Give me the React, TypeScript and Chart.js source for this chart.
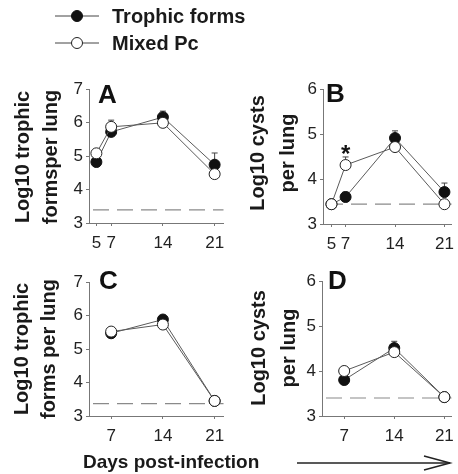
import React, { useEffect, useRef } from "react";
import { Chart, registerables } from "chart.js";

Chart.register(...registerables);

// ---------- data ----------
const daysAB = [5, 7, 14, 21];
const daysCD = [7, 14, 21];

const aTrophic = [4.82, 5.72, 6.16, 4.74];
const aTrophicErr = [0, 0, 0.18, 0.35];
const aMixed = [5.08, 5.87, 5.99, 4.46];
const aMixedErr = [0, 0.2, 0, 0];
const aLimit = 3.39;

const bTrophic = [3.44, 3.6, 4.91, 3.71];
const bTrophicErr = [0, 0.11, 0.16, 0.2];
const bMixed = [3.44, 4.31, 4.71, 3.44];
const bMixedErr = [0, 0.18, 0, 0];
const bLimit = 3.44;
const bStarDay = 7;
const bStarValue = 4.69;

const cTrophic = [5.47, 5.88, 3.45];
const cTrophicErr = [0, 0.1, 0];
const cMixed = [5.52, 5.73, 3.45];
const cMixedErr = [0, 0, 0];
const cLimit = 3.37;

const dTrophic = [3.8, 4.51, 3.42];
const dTrophicErr = [0, 0.15, 0];
const dMixed = [4.0, 4.42, 3.42];
const dMixedErr = [0, 0, 0];
const dLimit = 3.4;

const yTicksTrophic = [3, 4, 5, 6, 7];
const yTicksCysts = [3, 4, 5, 6];

const FONT = "'Liberation Sans', Arial, Helvetica, sans-serif";

type PanelCfg = {
  days: number[];
  trophic: number[];
  trophicErr: number[];
  mixed: number[];
  mixedErr: number[];
  limit: number;
  yTicks: number[];
  xMin: number;
  xMax: number;
  yWidth: number;
  padTop: number;
  padRight: number;
  xHeight: number;
  star?: { x: number; y: number };
};

const overlayPlugin = {
  id: "overlay",
  beforeDatasetsDraw(chart: any) {
    const { ctx, chartArea, scales } = chart;
    const cfg = chart.options.plugins.overlay as any;
    const y = scales.y;
    const x = scales.x;
    ctx.save();
    // detection limit dashed line
    const ly = y.getPixelForValue(cfg.limit);
    ctx.strokeStyle = "#8a8a8a";
    ctx.lineWidth = 1.2;
    ctx.setLineDash([16, 8]);
    ctx.beginPath();
    ctx.moveTo(chartArea.left + 4, ly);
    ctx.lineTo(chartArea.right, ly);
    ctx.stroke();
    ctx.setLineDash([]);
    // error bars (upper only)
    ctx.strokeStyle = "#444";
    ctx.lineWidth = 1;
    chart.data.datasets.forEach((ds: any) => {
      const errs: number[] = ds.errors || [];
      ds.data.forEach((p: any, i: number) => {
        const e = errs[i] || 0;
        if (e <= 0) return;
        const px = x.getPixelForValue(p.x);
        const py = y.getPixelForValue(p.y);
        const pt = y.getPixelForValue(p.y + e);
        ctx.beginPath();
        ctx.moveTo(px, py);
        ctx.lineTo(px, pt);
        ctx.moveTo(px - 3, pt);
        ctx.lineTo(px + 3, pt);
        ctx.stroke();
      });
    });
    ctx.restore();
  },
  afterDatasetsDraw(chart: any) {
    const cfg = chart.options.plugins.overlay as any;
    if (!cfg.star) return;
    const { ctx, scales } = chart;
    const px = scales.x.getPixelForValue(cfg.star.x);
    const py = scales.y.getPixelForValue(cfg.star.y);
    ctx.save();
    ctx.fillStyle = "#111";
    ctx.font = `bold 24px ${FONT}`;
    ctx.textAlign = "center";
    ctx.textBaseline = "alphabetic";
    ctx.fillText("*", px, py + 14);
    ctx.restore();
  },
};

function Panel({ cfg, left, top, width, height }: { cfg: PanelCfg; left: number; top: number; width: number; height: number }) {
  const ref = useRef<HTMLCanvasElement | null>(null);
  useEffect(() => {
    if (!ref.current) return;
    const lineColor = "#5a5a5a";
    const axisColor = "#777";
    const chart = new Chart(ref.current, {
      type: "line",
      data: {
        datasets: [
          {
            label: "Mixed Pc",
            data: cfg.days.map((d, i) => ({ x: d, y: cfg.mixed[i] })),
            borderColor: lineColor,
            borderWidth: 1,
            pointRadius: 5.5,
            pointBackgroundColor: "#ffffff",
            pointBorderColor: "#222",
            pointBorderWidth: 1,
            order: 1,
            errors: cfg.mixedErr,
          } as any,
          {
            label: "Trophic forms",
            data: cfg.days.map((d, i) => ({ x: d, y: cfg.trophic[i] })),
            borderColor: lineColor,
            borderWidth: 1,
            pointRadius: 5.5,
            pointBackgroundColor: "#111111",
            pointBorderColor: "#111",
            pointBorderWidth: 1,
            order: 2,
            errors: cfg.trophicErr,
          } as any,
        ],
      },
      options: {
        animation: false,
        responsive: false,
        maintainAspectRatio: false,
        layout: { padding: { left: 0, top: cfg.padTop, right: cfg.padRight, bottom: 0 } },
        plugins: {
          legend: { display: false },
          tooltip: { enabled: false },
          overlay: { limit: cfg.limit, star: cfg.star },
        } as any,
        scales: {
          x: {
            type: "linear",
            min: cfg.xMin,
            max: cfg.xMax,
            afterBuildTicks: (s: any) => {
              s.ticks = cfg.days.map((v) => ({ value: v }));
            },
            afterFit: (s: any) => {
              s.height = cfg.xHeight;
              s.paddingLeft = 0;
              s.paddingRight = 0;
            },
            grid: { display: true, drawOnChartArea: false, drawTicks: true, tickLength: 3, color: axisColor },
            border: { display: true, color: axisColor, width: 1 },
            ticks: {
              autoSkip: false,
              maxRotation: 0,
              padding: 7,
              color: "#222",
              font: { family: FONT, size: 17 },
              callback: (v: any) => String(v),
            },
          },
          y: {
            type: "linear",
            min: cfg.yTicks[0],
            max: cfg.yTicks[cfg.yTicks.length - 1],
            afterBuildTicks: (s: any) => {
              s.ticks = cfg.yTicks.map((v) => ({ value: v }));
            },
            afterFit: (s: any) => {
              s.width = cfg.yWidth;
              s.paddingTop = 0;
              s.paddingBottom = 0;
            },
            grid: { display: true, drawOnChartArea: false, drawTicks: true, tickLength: 3, color: axisColor },
            border: { display: true, color: axisColor, width: 1 },
            ticks: {
              padding: 3,
              color: "#222",
              font: { family: FONT, size: 17 },
              callback: (v: any) => String(v),
            },
          },
        },
      },
      plugins: [overlayPlugin],
    });
    return () => chart.destroy();
  }, [cfg]);
  return (
    <div style={{ position: "absolute", left, top, width, height }}>
      <canvas ref={ref} width={width} height={height} style={{ display: "block", width, height }} />
    </div>
  );
}

const panelA: PanelCfg = {
  days: daysAB, trophic: aTrophic, trophicErr: aTrophicErr, mixed: aMixed, mixedErr: aMixedErr,
  limit: aLimit, yTicks: yTicksTrophic, xMin: 4, xMax: 22.2, yWidth: 29, padTop: 19, padRight: 4, xHeight: 37,
};
const panelB: PanelCfg = {
  days: daysAB, trophic: bTrophic, trophicErr: bTrophicErr, mixed: bMixed, mixedErr: bMixedErr,
  limit: bLimit, yTicks: yTicksCysts, xMin: 3.8, xMax: 22, yWidth: 33, padTop: 19, padRight: 0, xHeight: 36,
  star: { x: bStarDay, y: bStarValue },
};
const panelC: PanelCfg = {
  days: daysCD, trophic: cTrophic, trophicErr: cTrophicErr, mixed: cMixed, mixedErr: cMixedErr,
  limit: cLimit, yTicks: yTicksTrophic, xMin: 4, xMax: 22.2, yWidth: 29, padTop: 20, padRight: 4, xHeight: 36,
};
const panelD: PanelCfg = {
  days: daysCD, trophic: dTrophic, trophicErr: dTrophicErr, mixed: dMixed, mixedErr: dMixedErr,
  limit: dLimit, yTicks: yTicksCysts, xMin: 3.9, xMax: 22, yWidth: 32, padTop: 19, padRight: 0, xHeight: 36,
};

function YTitle({ cx, cy, lines, lh }: { cx: number; cy: number; lines: string[]; lh: number }) {
  return (
    <div
      style={{
        position: "absolute",
        left: cx,
        top: cy,
        transform: "translate(-50%, -50%) rotate(-90deg)",
        whiteSpace: "nowrap",
        textAlign: "center",
        fontFamily: FONT,
        fontWeight: "bold",
        fontSize: 20,
        lineHeight: `${lh}px`,
        color: "#1a1a1a",
      }}
    >
      {lines.map((l, i) => (
        <div key={i}>{l}</div>
      ))}
    </div>
  );
}

function Letter({ left, top, text }: { left: number; top: number; text: string }) {
  return (
    <div style={{ position: "absolute", left, top, fontFamily: FONT, fontWeight: "bold", fontSize: 26, lineHeight: "26px", color: "#111" }}>
      {text}
    </div>
  );
}

export default function App() {
  const textStyle: React.CSSProperties = {
    position: "absolute",
    fontFamily: FONT,
    fontWeight: "bold",
    color: "#1a1a1a",
    whiteSpace: "nowrap",
  };
  return (
    <div style={{ position: "fixed", left: 0, top: 0, width: 458, height: 474, background: "#fff", overflow: "hidden" }}>
      <Panel cfg={panelA} left={60} top={70} width={170} height={190} />
      <Panel cfg={panelB} left={290} top={70} width={168} height={190} />
      <Panel cfg={panelC} left={60} top={262} width={170} height={190} />
      <Panel cfg={panelD} left={290} top={262} width={168} height={190} />

      <YTitle cx={36} cy={157} lines={["Log10 trophic", "formsper lung"]} lh={28} />
      <YTitle cx={272} cy={153} lines={["Log10 cysts", "per lung"]} lh={30} />
      <YTitle cx={35} cy={349} lines={["Log10 trophic", "forms per lung"]} lh={27} />
      <YTitle cx={273} cy={348} lines={["Log10 cysts", "per lung"]} lh={30} />

      <Letter left={98} top={81} text="A" />
      <Letter left={326} top={80} text="B" />
      <Letter left={99} top={267} text="C" />
      <Letter left={328} top={267} text="D" />

      <svg width={458} height={474} style={{ position: "absolute", left: 0, top: 0, pointerEvents: "none" }}>
        <line x1={55} y1={16} x2={99} y2={16} stroke="#444" strokeWidth={1} />
        <circle cx={77} cy={16} r={5.5} fill="#111" stroke="#111" />
        <line x1={55} y1={43} x2={99} y2={43} stroke="#444" strokeWidth={1} />
        <circle cx={77} cy={43} r={5.5} fill="#fff" stroke="#222" />
        <line x1={297} y1={463} x2={450} y2={463} stroke="#222" strokeWidth={1.5} />
        <polyline points="424,456 450,463 424,470" fill="none" stroke="#222" strokeWidth={1.5} />
      </svg>

      <div style={{ ...textStyle, left: 112, top: 6, fontSize: 20, lineHeight: "20px" }}>Trophic forms</div>
      <div style={{ ...textStyle, left: 112, top: 33, fontSize: 20, lineHeight: "20px" }}>Mixed Pc</div>
      <div style={{ ...textStyle, left: 83, top: 452, fontSize: 19, lineHeight: "20px" }}>Days post-infection</div>
    </div>
  );
}
